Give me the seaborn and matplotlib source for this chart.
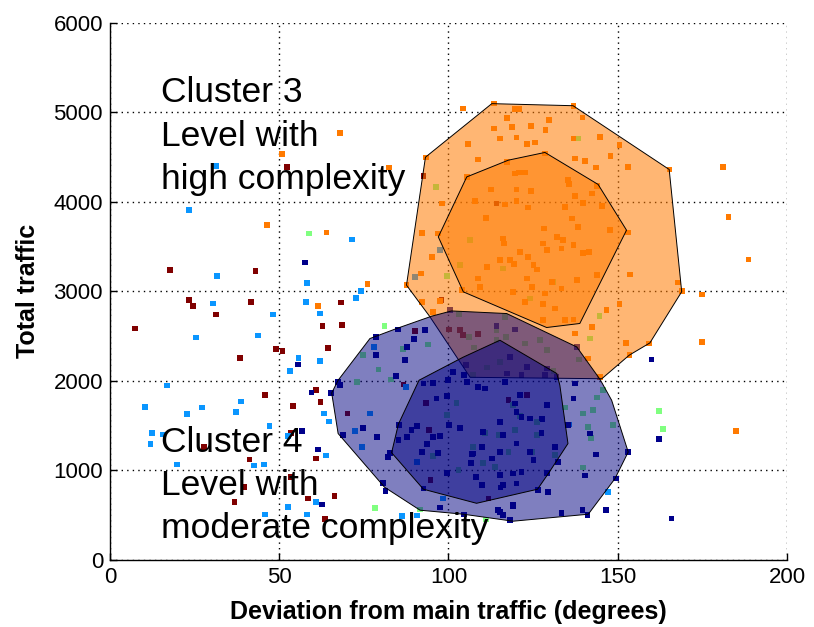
import numpy as np
import pandas as pd
import matplotlib
matplotlib.use("Agg")
import matplotlib.pyplot as plt
import seaborn as sns

# --- data (x: degrees, y: total traffic) ---
maroon_x = [17.7, 43.0, 52.2, 23.3, 24.6, 41.6, 31.3, 7.5, 62.8, 68.6, 68.2, 49.0, 51.0, 64.5, 38.4,
            45.9, 60.9, 54.0, 62.2, 70.2, 27.8, 53.5, 60.9, 41.2, 53.5, 39.7, 36.8, 58.5, 66.3, 63.5,
            92.6, 114.2, 97.9, 90.1, 100.2, 103.4, 104.2, 108.8, 86.7, 93.3, 94.3, 94.7, 123.1, 117.7, 111.8]
maroon_y = [3236, 3228, 4390, 2901, 2834, 2882, 2741, 2585, 2610, 2622, 2875, 2357, 2331, 2368, 2253,
            1843, 1896, 1717, 1765, 1635, 1262, 1419, 1133, 1121, 927, 815, 648, 686, 712, 455,
            4289, 3981, 2901, 2558, 2574, 2566, 2510, 2521, 1959, 1754, 1449, 890, 1840, 1784, 686]

lightblue_x = [23.4, 31.3, 31.7, 58.1, 30.5, 58.0, 48.1, 62.0, 25.4, 43.8, 55.7, 53.2, 62.0, 16.9, 10.4,
               22.8, 27.2, 38.8, 37.2, 63.2, 47.1, 12.4, 15.6, 12.0, 63.8, 52.6, 19.7, 42.5, 45.6, 60.8,
               52.7, 45.9, 58.3, 71.4, 74.2, 72.7, 64.7, 86.2, 90.8, 78.1, 87.4, 76.8, 72.4, 74.4, 90.8,
               98.3, 135.7, 147.2, 97.5, 90.1]
lightblue_y = [3906, 4401, 3169, 3094, 2864, 2882, 2741, 2752, 2484, 2507, 2256, 2111, 2223, 1948, 1706,
               1631, 1702, 1769, 1653, 1635, 1497, 1419, 1401, 1292, 1166, 1385, 1066, 1054, 1066, 648,
               592, 507, 507, 3579, 3001, 2927, 1546, 488, 496, 2379, 1932, 1635, 1441, 1262, 1095,
               686, 1512, 760, 3459, 3161]

navy_x = [57.6, 55.5, 59.5, 56.7, 61.4, 62.7, 65.2, 78.6, 85.0, 93.1, 89.8, 87.8, 78.6, 87.1, 84.6,
          67.4, 67.9, 65.3, 74.7, 68.9, 78.8, 82.2, 80.7, 81.4, 97.5, 104.6, 92.6, 95.5, 99.9, 101.4,
          105.4, 104.6, 96.5, 99.6, 100.1, 103.4, 85.4, 89.1, 90.6, 95.5, 97.5, 87.8, 93.7, 92.1, 97.0,
          106.9, 99.5, 106.6, 108.1, 92.6, 85.2, 82.7, 108.8, 110.8, 105.2, 118.2, 121.6, 128.5, 129.0,
          137.4, 136.9, 129.0, 121.1, 120.1, 124.1, 127.5, 121.6, 141.8, 135.4, 115.2, 110.3, 116.2,
          127.5, 120.1, 124.1, 125.1, 131.5, 109.8, 107.3, 115.2, 112.8, 119.1, 121.6, 115.2, 109.8,
          120.1, 116.2, 129.2, 132.3, 143.5, 149.5, 146.5, 139.6, 133.4, 129.5, 126.5, 119.1, 115.2,
          118.2, 160.0, 162.1, 165.9, 153.1, 116.7, 119.6, 127.8, 140.3, 115.4, 119.0, 114.7, 116.2,
          141.1, 100.4, 114.2, 119.6, 137.9, 131.9, 117.2, 123.1]
navy_y = [3322, 2183, 1870, 1438, 1233, 619, 1865, 2491, 2574, 2566, 2469, 2379, 2287, 2231, 2052,
          1988, 1951, 1859, 1474, 1393, 1374, 1151, 860, 771, 585, 507, 1970, 1977, 2007, 2100,
          1988, 2063, 1803, 1829, 1505, 1474, 1505, 1449, 1493, 1374, 1382, 1374, 1292, 1206, 1195,
          1181, 972, 1083, 927, 798, 1337, 1195, 1932, 1915, 2175, 2267, 2063, 2063, 2138,
          1970, 1803, 1728, 1840, 1653, 1579, 1579, 1597, 1412, 1505, 1541, 1430, 1393,
          1419, 1300, 1206, 1114, 1262, 1262, 1188, 1206, 1133, 965, 983, 946, 834,
          853, 834, 972, 1095, 1177, 909, 555, 555, 525, 760, 779, 600, 536,
          443, 2238, 1348, 462, 1206, 1988, 1747, 1572, 943, 809, 611, 558, 499,
          499, 2789, 2614, 2574, 2379, 2044, 2082, 2156]

green_x = [58.9, 81.1, 78.4, 111.1, 162.3, 163.3, 96.3, 106.4, 138.3, 103.4, 116.2, 99.5, 130.8, 124.1,
           144.6, 141.8, 94.0, 86.5, 74.7, 79.3, 83.0, 72.9, 99.5, 102.4, 95.5, 107.3, 103.0, 91.6,
           107.3, 115.2, 111.3, 131.0, 143.8, 145.7, 134.4, 119.1, 139.8, 141.3, 148.7, 114.8, 126.1,
           117.7, 131.5, 110.3, 142.8, 121.1, 126.1, 119.6, 110.8, 124.6, 113.7, 139.8, 142.0, 103.2,
           106.1, 107.5, 114.2, 116.7, 114.2, 117.0, 122.6, 127.0, 129.0, 138.6]
green_y = [3646, 2610, 577, 451, 1661, 1466, 4166, 3571, 4707, 3292, 3255, 3169, 3105, 2920,
           2722, 2473, 2406, 2354, 2287, 2127, 2015, 1985, 1616, 1754, 1162, 1262, 1004, 563,
           2063, 2212, 2149, 2111, 1814, 1896, 1702, 1728, 1635, 1486, 1505, 1393, 1393,
           1206, 1170, 1083, 1672, 1605, 1541, 1449, 1419, 1206, 1039, 1032, 1363, 2744,
           2491, 2372, 2566, 2714, 2454, 2491, 2417, 2454, 2342, 2238]

orange_x = [46.3, 64.0, 67.9, 50.9, 82.5, 76.1, 61.5, 181.2, 182.7, 188.6, 174.9, 174.8, 184.9,
            104.2, 113.5, 119.7, 120.9, 117.2, 129.8, 113.5, 118.7, 124.3, 128.7, 115.2, 120.1, 105.8,
            123.3, 125.5, 108.8, 93.4, 117.2, 128.5, 119.7, 120.9, 122.6, 105.4, 112.5, 120.1, 124.3,
            98.0, 107.8, 116.7, 120.1, 123.6, 111.1, 92.1, 97.0, 116.2, 128.2, 116.4, 136.9, 136.9,
            139.6, 144.8, 150.5, 137.4, 140.3, 147.9, 143.6, 153.1, 165.3, 135.4, 135.7, 143.8, 137.4,
            142.3, 139.8, 145.3, 134.4, 136.4, 138.3, 147.7, 153.1, 132.0, 133.9, 128.0, 129.0, 133.4,
            136.9, 121.1, 123.6, 115.2, 118.2, 119.4, 111.3, 125.1, 139.8, 141.6, 143.8, 153.6, 108.8,
            126.1, 123.1, 137.9, 109.3, 130.5, 124.6, 119.1, 128.5, 133.4, 167.9, 168.9, 103.9, 95.2,
            91.8, 87.6, 92.2, 95.5, 97.5, 122.6, 128.0, 131.5, 128.0, 134.4, 136.9, 146.7, 150.5,
            142.3, 152.4, 159.3, 153.5, 141.3, 137.4, 144.8]
orange_y = [3742, 3657, 4770, 4532, 4383, 3080, 2839, 4390, 3831, 3355, 2965, 2435, 1441,
            5042, 5098, 5034, 5034, 4937, 4912, 4819, 4837, 4848, 4803, 4707, 4718, 4643,
            4643, 4662, 4472, 4495, 4446, 4539, 4316, 4327, 4327, 4278, 4137, 4137, 4122,
            3981, 4007, 3970, 4010, 3936, 3820, 3653, 3646, 3590, 3702, 3534, 5068, 4707,
            4942, 4725, 4632, 4484, 4453, 4513, 4383, 4390, 4361, 4241, 4197, 4174, 4063,
            4093, 3988, 3951, 3943, 3813, 3720, 3683, 3657, 3608, 3571, 3534, 3459, 3478,
            3515, 3440, 3385, 3348, 3348, 3303, 3273, 3292, 3429, 3440, 3180, 3188, 3143,
            3244, 3143, 3124, 3049, 3105, 3049, 2994, 2976, 3032, 3099, 3005, 3013, 3385,
            3199, 3068, 2882, 2770, 2890, 2882, 2856, 2808, 2677, 2677, 2685, 2789, 2856,
            2603, 2424, 2417, 2287, 2250, 2529, 2044]

# contour levels (outer / inner) of the two clusters
c3_outer_x = [112.8, 136.8, 165.2, 168.9, 159.5, 153.4, 145.3, 106.4, 94.5, 87.6, 93.2]
c3_outer_y = [5096, 5073, 4361, 2996, 2424, 2287, 2024, 2040, 2717, 3069, 4498]
c3_inner_x = [105.4, 117.7, 128.5, 144.2, 152.6, 138.8, 129.0, 104.4, 97.0]
c3_inner_y = [4278, 4465, 4551, 4194, 3683, 2641, 2596, 2994, 3608]
c4_outer_x = [95.0, 100.9, 117.2, 137.9, 144.8, 148.2, 153.1, 149.2, 141.3, 119.1, 104.4, 91.6,
              81.1, 67.4, 65.5, 67.4, 76.8, 84.7]
c4_outer_y = [2722, 2781, 2752, 2379, 2015, 1784, 1206, 909, 511, 433, 511, 556,
              813, 1412, 1865, 2007, 2473, 2585]
c4_inner_x = [115.2, 104.3, 91.3, 85.2, 83.2, 92.6, 108.3, 126.3, 129.5, 135.3, 132.9, 132.0]
c4_inner_y = [2454, 2264, 2007, 1516, 1198, 790, 633, 790, 965, 1300, 1951, 2082]

group_colors = {"maroon": "#800000", "lightblue": "#0a96ff", "navy": "#00008b",
                "green": "#80ff80", "orange": "#ff7a00"}

frames = []
for name, xs, ys in [("maroon", maroon_x, maroon_y), ("lightblue", lightblue_x, lightblue_y),
                     ("green", green_x, green_y), ("navy", navy_x, navy_y),
                     ("orange", orange_x, orange_y)]:
    frames.append(pd.DataFrame({"Deviation": xs, "Traffic": ys, "group": name}))
df = pd.concat(frames, ignore_index=True)

sns.set_style("white")
plt.rcParams["font.family"] = ["Liberation Sans", "DejaVu Sans"]
plt.rcParams["text.color"] = "black"
plt.rcParams["axes.labelcolor"] = "black"

fig = plt.figure(figsize=(8.14, 6.27), dpi=100)
ax = fig.add_axes([0.1351, 0.1069, 0.8317, 0.8569])

sns.scatterplot(data=df, x="Deviation", y="Traffic", hue="group", palette=group_colors,
                marker="s", s=17, linewidth=0, legend=False, ax=ax, zorder=2)

orange_fill = (1.0, 0.478, 0.0, 0.55)
navy_fill = (0.0, 0.0, 0.5, 0.5)
for px, py, fc in [(c3_outer_x, c3_outer_y, orange_fill), (c3_inner_x, c3_inner_y, orange_fill),
                   (c4_outer_x, c4_outer_y, navy_fill), (c4_inner_x, c4_inner_y, navy_fill)]:
    ax.fill(px, py, facecolor=fc, edgecolor="black", linewidth=0.7, zorder=3)

ax.set_xlim(0, 200)
ax.set_ylim(0, 6000)
ax.set_xticks([0, 50, 100, 150, 200])
ax.set_yticks([0, 1000, 2000, 3000, 4000, 5000, 6000])
ax.grid(True, color="black", linestyle=(0, (1, 3)), linewidth=1.0)
ax.set_axisbelow(True)
for side in ["top", "right"]:
    ax.spines[side].set_visible(False)
for side in ["left", "bottom"]:
    ax.spines[side].set_color("black")
    ax.spines[side].set_linewidth(1.0)
ax.tick_params(direction="in", length=5, width=1, labelsize=16, colors="black",
               left=True, bottom=True, pad=5)

ax.set_xlabel("Deviation from main traffic (degrees)", fontsize=18, fontweight="bold", labelpad=9)
ax.set_ylabel("Total traffic", fontsize=18, fontweight="bold", labelpad=10)

ax.text(15.1, 5400, "Cluster 3\nLevel with\nhigh complexity", fontsize=25.5, color="black",
        ha="left", va="top", linespacing=1.4, zorder=5)
ax.text(15.1, 1500, "Cluster 4\nLevel with\nmoderate complexity", fontsize=25.5, color="black",
        ha="left", va="top", linespacing=1.4, zorder=5)

fig.savefig("out.png", dpi=100)
